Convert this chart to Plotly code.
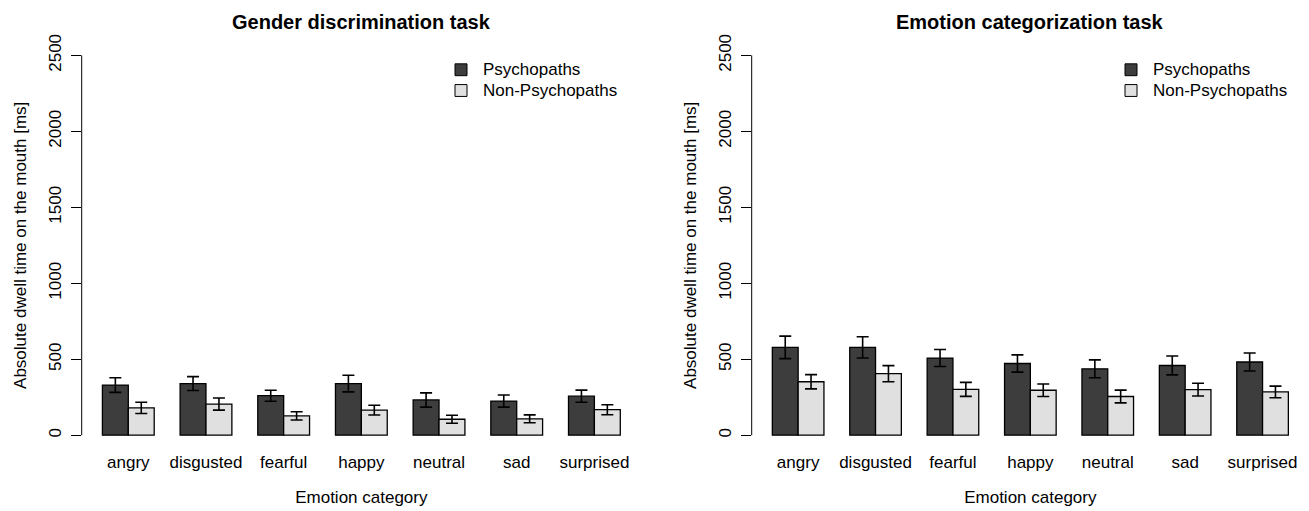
import plotly.graph_objects as go

# Emotion categories on the x axis
categories = ["angry", "disgusted", "fearful", "happy", "neutral", "sad", "surprised"]
groups = ["Psychopaths", "Non-Psychopaths"]
y_ticks = [0, 500, 1000, 1500, 2000, 2500]

# Gender discrimination task: mean dwell time on the mouth [ms] and error
gender_psy = [330, 340, 260, 340, 232, 225, 257]
gender_psy_err = [48, 46, 36, 55, 47, 40, 40]
gender_non = [180, 205, 127, 165, 105, 108, 168]
gender_non_err = [37, 40, 27, 32, 26, 26, 33]

# Emotion categorization task
emotion_psy = [578, 578, 508, 472, 437, 459, 482]
emotion_psy_err = [74, 70, 56, 57, 59, 62, 59]
emotion_non = [352, 405, 302, 296, 255, 300, 285]
emotion_non_err = [47, 53, 46, 41, 42, 42, 38]

W, H = 1309, 511
FONT = "Liberation Sans, Arial, sans-serif"
DARK = "#3d3d3d"
LIGHT = "#e0e0e0"
COLORS = [DARK, LIGHT]


def px_x(p):
    return p / W


def px_y(p):
    return 1 - p / H


# plot regions (pixels)
panels = [
    dict(x0=81.7, x1=641.0, title="Gender discrimination task",
         psy=gender_psy, psy_err=gender_psy_err, non=gender_non, non_err=gender_non_err),
    dict(x0=751.7, x1=1309.0, title="Emotion categorization task",
         psy=emotion_psy, psy_err=emotion_psy_err, non=emotion_non, non_err=emotion_non_err),
]
top_px, bottom_px = 34.6, 449.7
legend_rows = [64.5, 85.5]

fig = go.Figure()
layout = dict(
    width=W, height=H,
    margin=dict(l=0, r=0, t=0, b=0),
    paper_bgcolor="white", plot_bgcolor="white",
    barmode="group", bargap=1 / 3, bargroupgap=0,
    font=dict(family=FONT, size=17, color="black"),
    showlegend=False,
    annotations=[], shapes=[],
)

for i, p in enumerate(panels):
    sfx = "" if i == 0 else str(i + 1)
    xa, ya = "x" + sfx, "y" + sfx
    for name, vals, errs, col in [
        (groups[0], p["psy"], p["psy_err"], DARK),
        (groups[1], p["non"], p["non_err"], LIGHT),
    ]:
        fig.add_trace(go.Bar(
            x=categories, y=vals, name=name, xaxis=xa, yaxis=ya,
            marker=dict(color=col, line=dict(color="black", width=1.3)),
            error_y=dict(type="data", array=errs, visible=True,
                         color="black", thickness=1.6, width=6),
            offsetgroup=name,
        ))

    layout["xaxis" + sfx] = dict(
        domain=[px_x(p["x0"]), px_x(p["x1"])], anchor=ya,
        type="category", range=[-0.6, 6.6],
        showline=False, showgrid=False, zeroline=False, ticks="",
        tickfont=dict(size=17), fixedrange=True,
        title=dict(text="Emotion category", font=dict(size=17), standoff=19),
    )
    layout["yaxis" + sfx] = dict(
        domain=[px_y(bottom_px), px_y(top_px)], anchor=xa,
        range=[-100, 2600], tickvals=y_ticks,
        showline=False, showgrid=False, zeroline=False,
        ticks="outside", ticklen=10, tickwidth=1, tickcolor="black",
        tickangle=-90, tickfont=dict(size=17), ticklabelstandoff=3,
        title=dict(text="Absolute dwell time on the mouth [ms]", font=dict(size=17), standoff=14),
    )
    # y axis line spans only the tick range
    layout["shapes"].append(dict(
        type="line", xref=xa + " domain", yref=ya,
        x0=0, x1=0, y0=y_ticks[0], y1=y_ticks[-1],
        line=dict(color="black", width=1),
    ))
    layout["annotations"].append(dict(
        text="<b>" + p["title"] + "</b>", xref="paper", yref="paper",
        x=px_x((p["x0"] + p["x1"]) / 2), y=px_y(16),
        xanchor="center", yanchor="middle", showarrow=False,
        font=dict(size=20, family=FONT),
    ))
    # legend: filled key boxes with group names
    for g, (name, col) in enumerate(zip(groups, COLORS)):
        cy = legend_rows[g]
        cx = p["x0"] + 379.3
        layout["shapes"].append(dict(
            type="rect", xref="paper", yref="paper",
            x0=px_x(cx - 6), x1=px_x(cx + 6), y0=px_y(cy + 6), y1=px_y(cy - 6),
            fillcolor=col, line=dict(color="black", width=1),
        ))
        layout["annotations"].append(dict(
            text=name, xref="paper", yref="paper",
            x=px_x(p["x0"] + 399.5), y=px_y(cy),
            xanchor="left", yanchor="middle", showarrow=False,
            font=dict(size=17, family=FONT),
        ))

fig.update_layout(**layout)
fig.write_html("out.html")
